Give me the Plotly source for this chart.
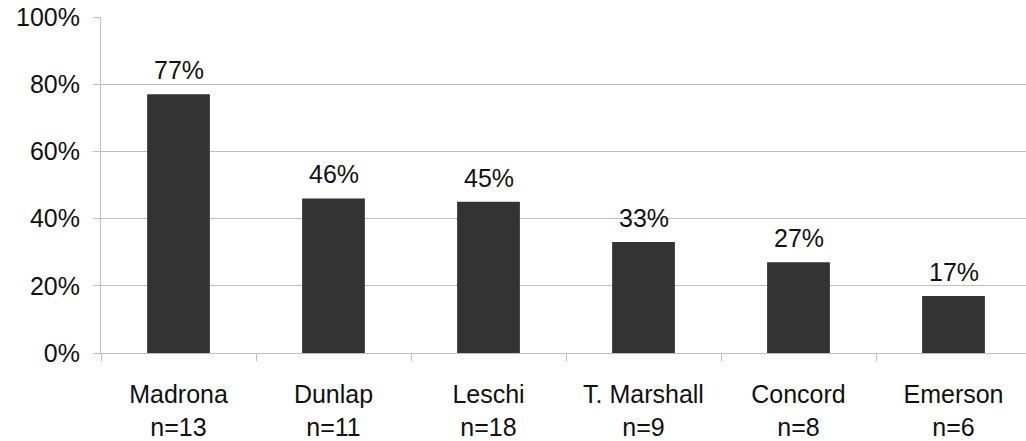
import plotly.graph_objects as go

schools = ["Madrona", "Dunlap", "Leschi", "T. Marshall", "Concord", "Emerson"]
n_counts = [13, 11, 18, 9, 8, 6]
values = [0.77, 0.46, 0.45, 0.33, 0.27, 0.17]
labels = ["77%", "46%", "45%", "33%", "27%", "17%"]

tick_text = [f"{s}<br>n={n}" for s, n in zip(schools, n_counts)]

FONT = "Liberation Sans, Arial, Helvetica, sans-serif"
GRID = "#bfbfbf"

fig = go.Figure()
fig.add_trace(go.Bar(
    x=schools, y=values, marker=dict(color="#333333", line=dict(width=0)),
    hoverinfo="skip",
))

for s, v, t in zip(schools, values, labels):
    fig.add_annotation(x=s, y=v, text=t, showarrow=False, yanchor="bottom",
                       yshift=8, font=dict(size=25, color="#111111", family=FONT))

fig.update_layout(
    width=1026, height=441,
    margin=dict(l=101, r=0, t=17, b=88),
    paper_bgcolor="white", plot_bgcolor="white",
    bargap=0.595, showlegend=False,
    font=dict(family=FONT, size=25, color="#111111"),
)
fig.update_xaxes(
    type="category", range=[-0.5, 5.5 - 5 / 155],
    tickmode="array", tickvals=schools, ticktext=tick_text,
    tickson="boundaries", ticks="outside", ticklen=7, tickcolor=GRID, tickwidth=1,
    showline=True, linecolor=GRID, linewidth=1, showgrid=False,
    ticklabelstandoff=19, tickfont=dict(size=25),
)
fig.update_yaxes(
    range=[0, 1], dtick=0.2, tickformat=".0%",
    showgrid=True, gridcolor=GRID, gridwidth=1,
    showline=True, linecolor=GRID, linewidth=1,
    ticks="outside", ticklen=7, tickcolor=GRID,
    ticklabelstandoff=8, zeroline=False, tickfont=dict(size=25),
)

fig.write_html("out.html")
